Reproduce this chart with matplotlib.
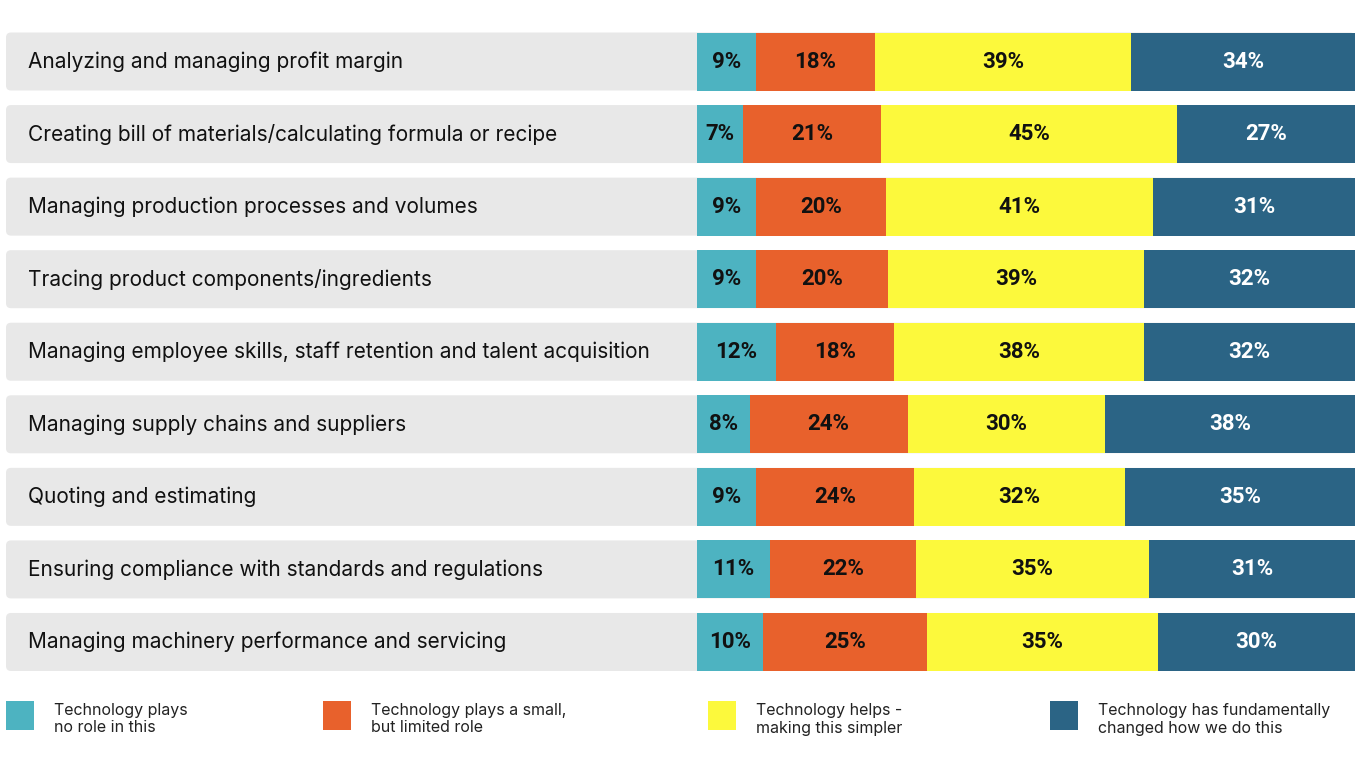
import matplotlib
matplotlib.use("Agg")
import matplotlib.pyplot as plt
from matplotlib.patches import FancyBboxPatch, Rectangle

categories = [
    "Analyzing and managing profit margin",
    "Creating bill of materials/calculating formula or recipe",
    "Managing production processes and volumes",
    "Tracing product components/ingredients",
    "Managing employee skills, staff retention and talent acquisition",
    "Managing supply chains and suppliers",
    "Quoting and estimating",
    "Ensuring compliance with standards and regulations",
    "Managing machinery performance and servicing",
]
no_role = [9, 7, 9, 9, 12, 8, 9, 11, 10]
small_role = [18, 21, 20, 20, 18, 24, 24, 22, 25]
helps = [39, 45, 41, 39, 38, 30, 32, 35, 35]
fundamental = [34, 27, 31, 32, 32, 38, 35, 31, 30]
series_names = ["Technology plays\nno role in this",
                "Technology plays a small,\nbut limited role",
                "Technology helps -\nmaking this simpler",
                "Technology has fundamentally\nchanged how we do this"]
colors = ["#4DB3C1", "#E8612C", "#FCF93C", "#2B6485"]
text_colors = ["#111111", "#111111", "#111111", "#FFFFFF"]

W, H = 1360, 772
fig = plt.figure(figsize=(W/100, H/100), dpi=100)
fig.patch.set_facecolor("white")

n = len(categories)
top, pitch = 61.5, 72.56
# background axes in pixel coordinates
bg = fig.add_axes([0, 0, 1, 1])
bg.set_xlim(0, W); bg.set_ylim(H, 0); bg.axis("off")
for i, c in enumerate(categories):
    yc = top + i*pitch
    bg.add_patch(FancyBboxPatch((6, yc-29), 1349, 58,
                 boxstyle="round,pad=0,rounding_size=5",
                 fc="#E8E8E8", ec="none"))
    bg.text(28, yc, c, fontsize=15, va="center", ha="left", color="#111111",
            family="Inter")

# bar axes
y0 = (H - (top + (n-1)*pitch + pitch/2)) / H
y1 = (H - (top - pitch/2)) / H
ax = fig.add_axes([697/W, y0, (1355-697)/W, y1-y0])
ax.set_xlim(0, 100); ax.set_ylim(n-0.5, -0.5); ax.axis("off")
data = [no_role, small_role, helps, fundamental]
for i in range(n):
    vals = [d[i] for d in data]
    tot = sum(vals)
    left = 0
    for k, v in enumerate(vals):
        w = v*100/tot
        ax.barh(i, w, left=left, height=58/pitch, color=colors[k], linewidth=0)
        ax.text(left + w/2, i, f"{v}%", ha="center", va="center",
                fontsize=16, fontweight="bold", color=text_colors[k],
                family="Roboto")
        left += w

# legend
for k, (xs, name) in enumerate(zip([6, 323, 708, 1050], series_names)):
    bg.add_patch(Rectangle((xs, 701), 28, 29, fc=colors[k], ec="none"))
    bg.text(xs+48, 719, name, fontsize=11.5, va="center", ha="left",
            color="#222222", family="Inter", linespacing=1.25)

fig.savefig("out.png", dpi=100, facecolor="white")
